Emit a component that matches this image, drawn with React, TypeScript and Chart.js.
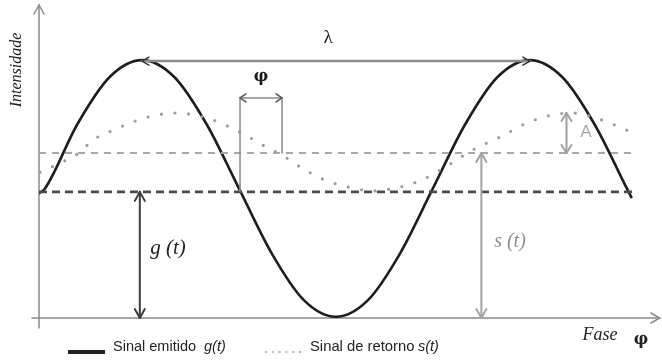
import React, { useEffect, useRef } from "react";
import { Chart, registerables } from "chart.js";

Chart.register(...registerables);

// Phase (degrees) and intensity readings of the emitted signal g(t)
const solidPhase = [-5.6, 0, 30, 60, 90, 120, 150, 180, 210, 240, 270, 300, 330, 360, 390, 420, 450, 480, 510, 540, 544.6];
const solidIntensity = [39.8, 41.4, 61.9, 77.0, 82.4, 77.0, 61.9, 41.4, 20.9, 5.8, 0.4, 5.8, 20.9, 41.4, 61.9, 77.0, 82.4, 77.0, 61.9, 41.4, 38.3];

// Phase and intensity readings of the return signal s(t)
const dottedPhase = [-4.6, 14, 32.5, 44.5, 57.5, 69.6, 95.6, 120.6, 150.3, 180.9, 206.9, 219.9, 233.8, 259.8, 285.8, 304.3, 324.7, 349.8, 373, 397.1, 422.2, 447.2, 471.3, 489.9, 508.4, 533.5, 545.6];
const dottedIntensity = [46.6, 49.5, 53.0, 56.9, 59.1, 61.0, 64.2, 65.5, 63.9, 59.4, 54.3, 52.1, 48.9, 44.1, 41.5, 40.6, 41.5, 44.1, 48.6, 53.7, 57.8, 62.3, 64.9, 65.5, 64.2, 61.0, 59.1];

// Mean levels (dashed reference lines)
const baselinePhase = [-5.6, 546];
const emittedMean = [40.3, 40.3];
const returnMean = [52.7, 52.7];

// Annotation anchors (phase, intensity)
const lambdaSpan = [90, 450];
const lambdaLevel = 82.1;
const phiSpan = [181, 220];
const phiTop = 70.3;
const ampPhase = 484;
const ampRange = [52.7, 65.5];
const gPhase = 88;
const sPhase = 405;

const X_MIN = -5.567;
const X_MAX = 570.6;

function chevron(ctx: CanvasRenderingContext2D, x: number, y: number, dir: "up" | "down" | "left" | "right", len = 8, half = 5) {
  ctx.beginPath();
  if (dir === "up") { ctx.moveTo(x - half, y + len); ctx.lineTo(x, y); ctx.lineTo(x + half, y + len); }
  if (dir === "down") { ctx.moveTo(x - half, y - len); ctx.lineTo(x, y); ctx.lineTo(x + half, y - len); }
  if (dir === "left") { ctx.moveTo(x + len, y - half); ctx.lineTo(x, y); ctx.lineTo(x + len, y + half); }
  if (dir === "right") { ctx.moveTo(x - len, y - half); ctx.lineTo(x, y); ctx.lineTo(x - len, y + half); }
  ctx.stroke();
}

function line(ctx: CanvasRenderingContext2D, x1: number, y1: number, x2: number, y2: number) {
  ctx.beginPath();
  ctx.moveTo(x1, y1);
  ctx.lineTo(x2, y2);
  ctx.stroke();
}

const diagramPlugin = {
  id: "diagram",
  beforeDatasetsDraw(chart: any) {
    const ctx: CanvasRenderingContext2D = chart.ctx;
    const xs = chart.scales.x;
    const ys = chart.scales.y;
    const X = (v: number) => xs.getPixelForValue(v);
    const Y = (v: number) => ys.getPixelForValue(v);
    ctx.save();
    ctx.strokeStyle = "#8a8a8a";
    ctx.lineWidth = 1.5;
    ctx.lineCap = "round";
    const ax = X(X_MIN);
    const ay = Y(0);
    line(ctx, ax, ay + 10, ax, Y(100));
    chevron(ctx, ax, Y(100), "up", 9, 5);
    line(ctx, ax - 7, ay, X(X_MAX), ay);
    chevron(ctx, X(X_MAX), ay, "right", 9, 5);
    ctx.restore();
  },
  afterDatasetsDraw(chart: any) {
    const ctx: CanvasRenderingContext2D = chart.ctx;
    const xs = chart.scales.x;
    const ys = chart.scales.y;
    const X = (v: number) => xs.getPixelForValue(v);
    const Y = (v: number) => ys.getPixelForValue(v);
    ctx.save();
    ctx.lineCap = "round";
    ctx.lineJoin = "round";

    // lambda
    ctx.strokeStyle = "#8c8c8c";
    ctx.lineWidth = 2.5;
    line(ctx, X(lambdaSpan[0]), Y(lambdaLevel), X(lambdaSpan[1]), Y(lambdaLevel));
    ctx.strokeStyle = "#333";
    ctx.lineWidth = 1.5;
    chevron(ctx, X(lambdaSpan[0]), Y(lambdaLevel), "left", 7, 4);
    chevron(ctx, X(lambdaSpan[1]), Y(lambdaLevel), "right", 7, 4);

    // phi bracket
    ctx.strokeStyle = "#8a8a8a";
    ctx.lineWidth = 1.5;
    line(ctx, X(phiSpan[0]), Y(phiTop), X(phiSpan[0]), Y(emittedMean[0]));
    line(ctx, X(phiSpan[1]), Y(phiTop), X(phiSpan[1]), Y(returnMean[0]));
    line(ctx, X(phiSpan[0]), Y(phiTop), X(phiSpan[1]), Y(phiTop));
    ctx.strokeStyle = "#555";
    chevron(ctx, X(phiSpan[0]), Y(phiTop), "left", 6, 4);
    chevron(ctx, X(phiSpan[1]), Y(phiTop), "right", 6, 4);

    // A
    ctx.strokeStyle = "#a0a0a0";
    ctx.lineWidth = 2;
    line(ctx, X(ampPhase), Y(ampRange[0]), X(ampPhase), Y(ampRange[1]));
    chevron(ctx, X(ampPhase), Y(ampRange[1]), "up", 8, 5);
    chevron(ctx, X(ampPhase), Y(ampRange[0]), "down", 8, 5);

    // g(t)
    ctx.strokeStyle = "#3c3c3c";
    ctx.lineWidth = 2;
    line(ctx, X(gPhase), Y(emittedMean[0]), X(gPhase), Y(0));
    chevron(ctx, X(gPhase), Y(emittedMean[0]), "up", 9, 5);
    chevron(ctx, X(gPhase), Y(0), "down", 9, 5);

    // s(t)
    ctx.strokeStyle = "#a3a3a3";
    ctx.lineWidth = 2;
    line(ctx, X(sPhase), Y(returnMean[0]), X(sPhase), Y(0));
    chevron(ctx, X(sPhase), Y(returnMean[0]), "up", 9, 5);
    chevron(ctx, X(sPhase), Y(0), "down", 9, 5);

    // labels
    ctx.textAlign = "center";
    ctx.textBaseline = "middle";
    ctx.fillStyle = "#1a1a1a";
    ctx.font = "19px 'Liberation Serif'";
    ctx.fillText("λ", 328, 38);
    ctx.font = "bold 16px 'DejaVu Serif'";
    ctx.fillText("φ", 261, 77);
    ctx.fillStyle = "#a8a8a8";
    ctx.font = "17px 'Liberation Sans'";
    ctx.fillText("A", 586, 132);
    ctx.fillStyle = "#222";
    ctx.font = "italic 21px 'Liberation Serif'";
    ctx.fillText("g (t)", 168, 248, 41);
    ctx.fillStyle = "#8f8f8f";
    ctx.font = "italic 20px 'Liberation Serif'";
    ctx.fillText("s (t)", 510, 242, 35);
    ctx.fillStyle = "#222";
    ctx.font = "italic 18px 'Liberation Serif'";
    ctx.fillText("Fase", 600, 335, 37);
    ctx.font = "bold 16px 'DejaVu Serif'";
    ctx.fillText("φ", 641, 340);
    ctx.save();
    ctx.translate(17, 70);
    ctx.rotate(-Math.PI / 2);
    ctx.font = "italic 16px 'Liberation Serif'";
    ctx.fillText("Intensidade", 0, 0, 86);
    ctx.restore();

    // legend
    ctx.fillStyle = "#222";
    ctx.fillRect(68, 350, 37, 4);
    ctx.textAlign = "left";
    ctx.font = "14.5px 'Liberation Sans'";
    ctx.fillText("Sinal emitido", 113, 347, 84);
    ctx.font = "italic 14.5px 'Liberation Sans'";
    ctx.fillText("g(t)", 204, 347, 24);
    ctx.fillStyle = "#c0c0c0";
    for (let i = 0; i < 6; i++) {
      ctx.beginPath();
      ctx.arc(266 + i * 6.8, 352, 1.3, 0, Math.PI * 2);
      ctx.fill();
    }
    ctx.fillStyle = "#222";
    ctx.font = "14.8px 'Liberation Sans'";
    ctx.fillText("Sinal de retorno", 310, 347, 105);
    ctx.font = "italic 14.5px 'Liberation Sans'";
    ctx.fillText("s(t)", 418, 347, 22);
    ctx.restore();
  },
};

export default function App() {
  const ref = useRef<HTMLCanvasElement | null>(null);
  useEffect(() => {
    if (!ref.current) return;
    const toPts = (xs: number[], ys: number[]) => xs.map((x, i) => ({ x, y: ys[i] }));
    const chart = new Chart(ref.current, {
      type: "line",
      data: {
        datasets: [
          {
            label: "Sinal de retorno s(t)",
            data: toPts(dottedPhase, dottedIntensity),
            borderColor: "#9c9c9c",
            borderWidth: 3.2,
            borderDash: [0, 13.6],
            borderCapStyle: "round",
            cubicInterpolationMode: "monotone",
            pointRadius: 0,
            fill: false,
          },
          {
            label: "mean s",
            data: toPts(baselinePhase, returnMean),
            borderColor: "#a8a8a8",
            borderWidth: 2,
            borderDash: [7, 6],
            pointRadius: 0,
            fill: false,
          },
          {
            label: "mean g",
            data: toPts(baselinePhase, emittedMean),
            borderColor: "#4a4a4a",
            borderWidth: 2.6,
            borderDash: [8, 5],
            pointRadius: 0,
            fill: false,
          },
          {
            label: "Sinal emitido g(t)",
            data: toPts(solidPhase, solidIntensity),
            borderColor: "#1e1e1e",
            borderWidth: 2.6,
            cubicInterpolationMode: "monotone",
            pointRadius: 0,
            fill: false,
          },
        ],
      },
      options: {
        responsive: false,
        animation: false,
        devicePixelRatio: 1,
        layout: { padding: { left: 39, right: 662 - 659.8, top: 5, bottom: 43 } },
        plugins: { legend: { display: false }, tooltip: { enabled: false } },
        scales: {
          x: { type: "linear", min: X_MIN, max: X_MAX, display: false },
          y: { type: "linear", min: 0, max: 100, display: false },
        },
      },
      plugins: [diagramPlugin],
    } as any);
    return () => chart.destroy();
  }, []);
  return (
    <div style={{ position: "fixed", left: 0, top: 0, width: 662, height: 361, background: "#fff" }}>
      <canvas ref={ref} width={662} height={361} />
    </div>
  );
}
